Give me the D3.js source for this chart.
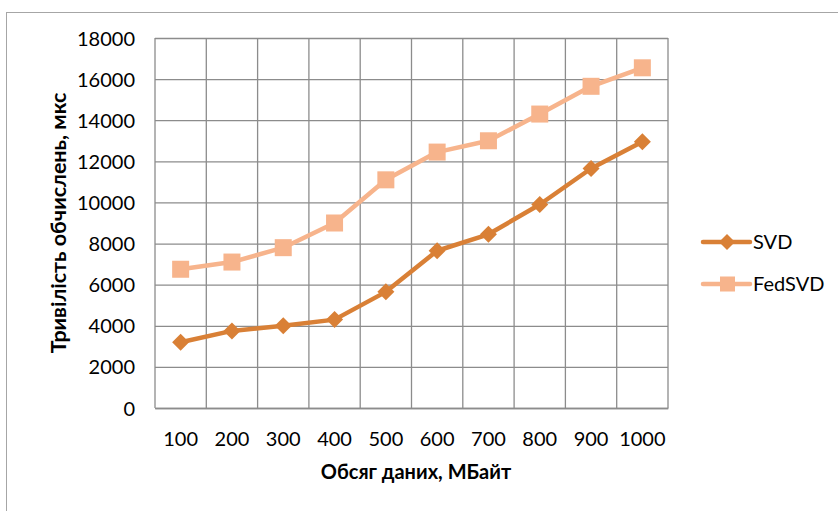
<!DOCTYPE html>
<html>
<head>
<meta charset="utf-8">
<script src="https://cdn.jsdelivr.net/npm/d3@7"></script>
<style>
  html, body { margin: 0; padding: 0; background: #fff; }
  svg { display: block; }
  text { font-family: Lato, "Open Sans", sans-serif; fill: #000; }
</style>
</head>
<body>
<div id="chart"></div>
<script>
// Data volume (MB) and computation time (µs) for the two methods
const categories = ["100", "200", "300", "400", "500", "600", "700", "800", "900", "1000"];
const svdValues = [3200, 3750, 4000, 4300, 5650, 7650, 8450, 9900, 11650, 12950];
const fedSvdValues = [6750, 7100, 7800, 9000, 11100, 12450, 13000, 14300, 15650, 16550];
const yTicks = [0, 2000, 4000, 6000, 8000, 10000, 12000, 14000, 16000, 18000];
const seriesNames = ["SVD", "FedSVD"];

const W = 838, H = 511;
const plot = { left: 155, top: 38, right: 668, bottom: 408 };
const FONT = 20;

const svg = d3.select("#chart").append("svg").attr("width", W).attr("height", H);

// Outer chart frame
svg.append("rect")
  .attr("x", 6.5).attr("y", 12.5)
  .attr("width", W).attr("height", H)
  .attr("fill", "none").attr("stroke", "#a6a6a6").attr("stroke-width", 1);

const x = d3.scaleBand().domain(categories).range([plot.left, plot.right]).padding(0);
const y = d3.scaleLinear().domain([0, 18000]).range([plot.bottom, plot.top]);

// Horizontal gridlines + y labels
const yAxis = d3.axisLeft(y).tickValues(yTicks).tickSize(-(plot.right - plot.left)).tickPadding(20)
  .tickFormat(d3.format("d"));
const gy = svg.append("g").attr("transform", `translate(${plot.left},0)`).call(yAxis);
gy.select(".domain").remove();
gy.selectAll("line").attr("stroke", "#8c8c8c").attr("stroke-width", 1.3);
gy.selectAll("text").style("font-size", FONT + "px").attr("dy", "0.35em");

// Vertical gridlines at band edges
const edges = categories.map(c => x(c)).concat([plot.right]);
svg.append("g").selectAll("line").data(edges).join("line")
  .attr("x1", d => d).attr("x2", d => d)
  .attr("y1", plot.top).attr("y2", plot.bottom)
  .attr("stroke", "#8c8c8c").attr("stroke-width", 1.3);

// Bottom axis with category labels
const xAxis = d3.axisBottom(x).tickSize(0).tickPadding(23);
const gx = svg.append("g").attr("transform", `translate(0,${plot.bottom})`).call(xAxis);
gx.select(".domain").attr("stroke", "#8c8c8c").attr("stroke-width", 1.6);
gx.selectAll("text").attr("dy", "0.35em").attr("y", 31).style("font-size", FONT + "px");

// Axis titles
svg.append("text")
  .attr("x", 416).attr("y", 472).attr("dy", "0.35em")
  .attr("text-anchor", "middle")
  .style("font-size", FONT + "px").style("font-weight", "bold")
  .text("Обсяг даних, МБайт");

svg.append("text")
  .attr("transform", `translate(58,${223}) rotate(-90)`)
  .attr("text-anchor", "middle").attr("dy", "0.35em")
  .style("font-size", "21.5px").style("font-weight", "bold")
  .text("Тривілість обчислень, мкс");

const colors = { SVD: "#d98036", FedSVD: "#f7b48c" };
const cx = c => x(c) + x.bandwidth() / 2;
const line = d3.line().x(d => cx(d.c)).y(d => y(d.v));

const svdData = categories.map((c, i) => ({ c, v: svdValues[i] }));
const fedData = categories.map((c, i) => ({ c, v: fedSvdValues[i] }));

// FedSVD series: line + square markers
svg.append("path").datum(fedData).attr("d", line)
  .attr("fill", "none").attr("stroke", colors.FedSVD).attr("stroke-width", 4.5)
  .attr("stroke-linejoin", "round");
svg.append("g").selectAll("rect").data(fedData).join("rect")
  .attr("x", d => cx(d.c) - 8.5).attr("y", d => y(d.v) - 8.5)
  .attr("width", 17).attr("height", 17).attr("fill", colors.FedSVD);

// SVD series: line + diamond markers
svg.append("path").datum(svdData).attr("d", line)
  .attr("fill", "none").attr("stroke", colors.SVD).attr("stroke-width", 4.5)
  .attr("stroke-linejoin", "round");
const diamond = "M0,-8.5L8.5,0L0,8.5L-8.5,0Z";
svg.append("g").selectAll("path").data(svdData).join("path")
  .attr("d", diamond)
  .attr("transform", d => `translate(${cx(d.c)},${y(d.v)})`)
  .attr("fill", colors.SVD);

// Legend
const legend = svg.append("g");
const legendRows = [
  { name: seriesNames[0], y: 242, shape: "diamond" },
  { name: seriesNames[1], y: 284, shape: "square" }
];
legendRows.forEach(r => {
  const col = colors[r.name];
  legend.append("line").attr("x1", 703).attr("x2", 750).attr("y1", r.y).attr("y2", r.y)
    .attr("stroke", col).attr("stroke-width", 4.5).attr("stroke-linecap", "round");
  if (r.shape === "diamond") {
    legend.append("path").attr("d", "M0,-8L8,0L0,8L-8,0Z")
      .attr("transform", `translate(727,${r.y})`).attr("fill", col);
  } else {
    legend.append("rect").attr("x", 720).attr("y", r.y - 7.5).attr("width", 15).attr("height", 15)
      .attr("fill", col);
  }
  legend.append("text").attr("x", 753).attr("y", r.y).attr("dy", "0.35em")
    .style("font-size", FONT + "px").text(r.name);
});
</script>
</body>
</html>
